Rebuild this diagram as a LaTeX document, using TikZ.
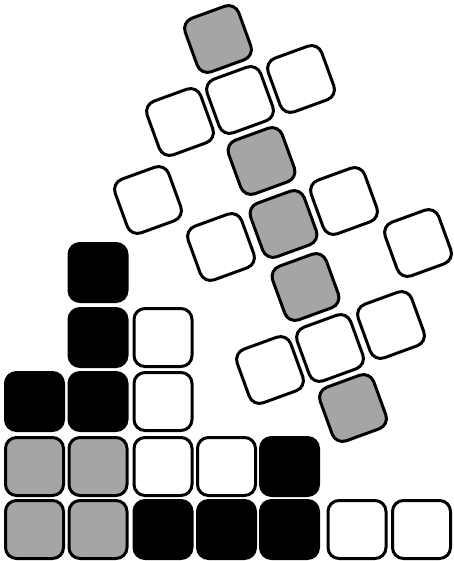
\documentclass[tikz,border=0pt]{standalone}
\definecolor{dither}{RGB}{165,165,165}
\tikzset{
  tile/.style={rectangle, rounded corners=11pt, minimum width=58pt, minimum height=58pt,
    inner sep=0pt, line width=3pt, draw=black},
  rtile/.style={tile, minimum width=57pt, minimum height=57pt, rotate=20},
  wh/.style={fill=white},
  gr/.style={fill=dither},
  bk/.style={fill=black}
}
\begin{document}
\begin{tikzpicture}[x=1pt,y=-1pt]
\useasboundingbox (0,0) rectangle (454,561);
% bottom grid
\node[tile,gr] (a00) at (34.5,529.5) {};
\node[tile,gr] (a10) at (98,529.5) {};
\node[tile,bk] (a20) at (163,529.5) {};
\node[tile,bk] (a30) at (226.5,529.5) {};
\node[tile,bk] (a40) at (289.5,529.5) {};
\node[tile,wh] (a50) at (357,529.5) {};
\node[tile,wh] (a60) at (421.5,529.5) {};
\node[tile,gr] (a01) at (34.5,466.5) {};
\node[tile,gr] (a11) at (98,466.5) {};
\node[tile,wh] (a21) at (163,466.5) {};
\node[tile,wh] (a31) at (226.5,466.5) {};
\node[tile,bk] (a41) at (289.5,466.5) {};
\node[tile,bk] (a02) at (34.5,401.5) {};
\node[tile,bk] (a12) at (98,401.5) {};
\node[tile,wh] (a22) at (163,401.5) {};
\node[tile,bk] (a13) at (98,337.5) {};
\node[tile,wh] (a23) at (163,337.5) {};
\node[tile,bk] (a14) at (98,272.5) {};
% rotated group
\node[rtile,gr] (r1) at (218,39) {};
\node[rtile,wh] (r2) at (240,100) {};
\node[rtile,wh] (r3) at (301,79) {};
\node[rtile,wh] (r4) at (180,122) {};
\node[rtile,gr] (r5) at (261.5,161) {};
\node[rtile,wh] (r6) at (148,200) {};
\node[rtile,gr] (r7) at (283.5,224) {};
\node[rtile,wh] (r8) at (344,201) {};
\node[rtile,wh] (r9) at (221,247) {};
\node[rtile,wh] (r10) at (418,243) {};
\node[rtile,gr] (r11) at (305.5,287) {};
\node[rtile,wh] (r12) at (270,370) {};
\node[rtile,wh] (r13) at (330,348) {};
\node[rtile,wh] (r14) at (391,325) {};
\node[rtile,gr] (r15) at (353,408) {};
\end{tikzpicture}
\end{document}
